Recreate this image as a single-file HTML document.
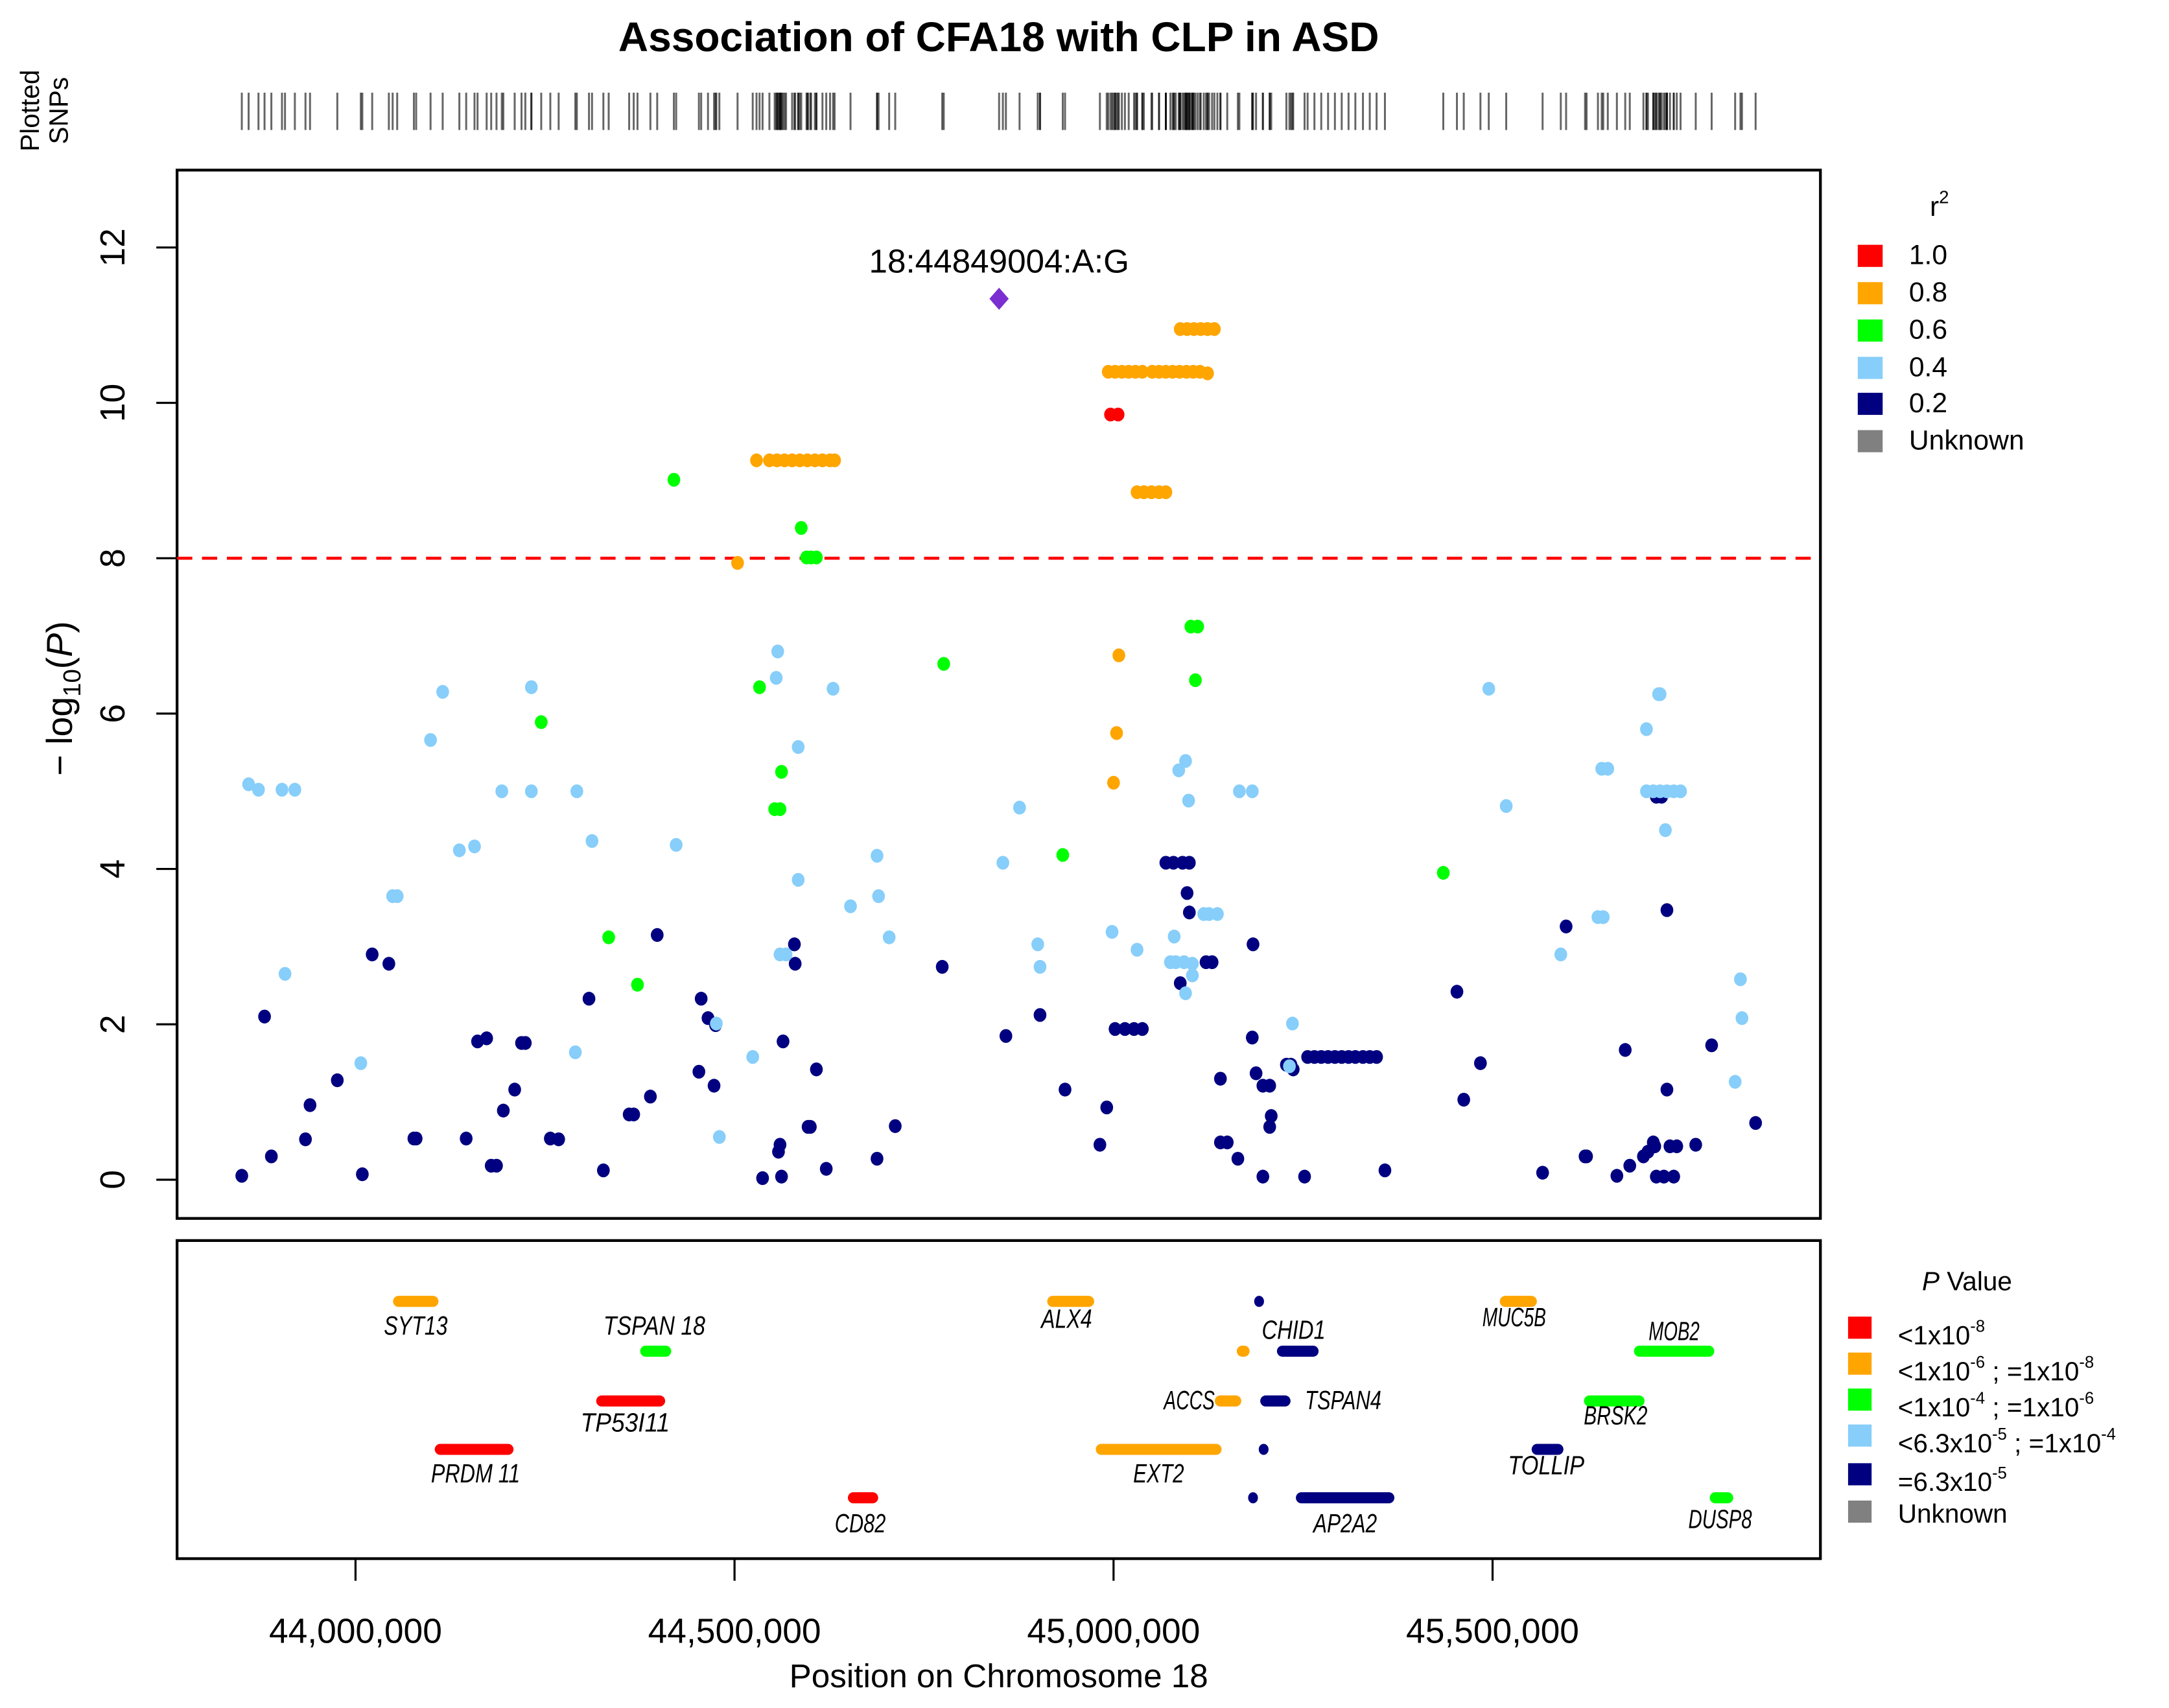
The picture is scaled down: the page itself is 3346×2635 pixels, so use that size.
<!DOCTYPE html>
<html><head><meta charset="utf-8"><style>
html,body{margin:0;padding:0;background:#fff}
svg{display:block}
text{font-family:"Liberation Sans",sans-serif}
</style></head><body>
<svg id="chart" xmlns="http://www.w3.org/2000/svg" width="3346" height="2635" viewBox="0 0 1568 1235" preserveAspectRatio="none">
<rect x="0" y="0" width="1568" height="1235" fill="#fff"/>
<text x="722" y="37" text-anchor="middle" font-size="30" font-weight="bold">Association of CFA18 with CLP in ASD</text>
<g font-size="19">
<text transform="translate(28,80) rotate(-90)" text-anchor="middle">Plotted</text>
<text transform="translate(49,80) rotate(-90)" text-anchor="middle">SNPs</text>
</g>
<g id="rug"></g>
<rect x="128" y="123" width="1188" height="758" fill="none" stroke="#000" stroke-width="2"/>
<rect x="128" y="897" width="1188" height="230" fill="none" stroke="#000" stroke-width="2"/>
<g id="yaxis"></g>
<text transform="translate(52,505) rotate(-90)" text-anchor="middle" font-size="26">− log<tspan font-size="18" dy="6">10</tspan><tspan dy="-6">(</tspan><tspan font-style="italic">P</tspan>)</text>
<g id="xaxis"></g>
<text x="722" y="1220" text-anchor="middle" font-size="24">Position on Chromosome 18</text>
<line id="thr" x1="128" x2="1316" stroke="#f00" stroke-width="2.2" stroke-dasharray="11,7"/>
<g id="points"></g>
<g id="genes"></g>
<g font-size="20">
<text x="1402" y="156" text-anchor="middle" font-size="20">r<tspan font-size="13" dy="-9">2</tspan></text>
<rect x="1343" y="177" width="18" height="16" fill="#f00"/><text x="1380" y="191">1.0</text>
<rect x="1343" y="204" width="18" height="16" fill="#ffa500"/><text x="1380" y="218">0.8</text>
<rect x="1343" y="231" width="18" height="16" fill="#0f0"/><text x="1380" y="245">0.6</text>
<rect x="1343" y="258" width="18" height="16" fill="#87cefa"/><text x="1380" y="272">0.4</text>
<rect x="1343" y="284" width="18" height="16" fill="#000080"/><text x="1380" y="298">0.2</text>
<rect x="1343" y="311" width="18" height="16" fill="#808080"/><text x="1380" y="325">Unknown</text>
</g>
<g font-size="19">
<text x="1422" y="933" text-anchor="middle"><tspan font-style="italic">P</tspan> Value</text>
<rect x="1336" y="952" width="17" height="16" fill="#f00"/><text x="1372" y="972">&lt;1x10<tspan font-size="12" dy="-9">-8</tspan></text>
<rect x="1336" y="978" width="17" height="16" fill="#ffa500"/><text x="1372" y="998">&lt;1x10<tspan font-size="12" dy="-9">-6</tspan><tspan dy="9"> ; =1x10</tspan><tspan font-size="12" dy="-9">-8</tspan></text>
<rect x="1336" y="1004" width="17" height="16" fill="#0f0"/><text x="1372" y="1024">&lt;1x10<tspan font-size="12" dy="-9">-4</tspan><tspan dy="9"> ; =1x10</tspan><tspan font-size="12" dy="-9">-6</tspan></text>
<rect x="1336" y="1030" width="17" height="16" fill="#87cefa"/><text x="1372" y="1050">&lt;6.3x10<tspan font-size="12" dy="-9">-5</tspan><tspan dy="9"> ; =1x10</tspan><tspan font-size="12" dy="-9">-4</tspan></text>
<rect x="1336" y="1058" width="17" height="16" fill="#000080"/><text x="1372" y="1078">=6.3x10<tspan font-size="12" dy="-9">-5</tspan></text>
<rect x="1336" y="1085" width="17" height="16" fill="#808080"/><text x="1372" y="1101">Unknown</text>
</g>
</svg>
<script>
// positions in kb, values -log10(P)
const navyPos=[43850,43889,43880,43934,43940,43976,44009,44022,44044,44077,44080,44146,44161,44173,44179,44186,44195,44210,44219,44224,44257,44268,44308,44327,44361,44367,44389,44398,44456,44453,44465,44473,44475,44537,44560,44558,44562,44564,44579,44580,44597,44600,44608,44621,44688,44712,44774,44858,44903,44936,44982,44991,45002,45015,45027,45038,45069,45079,45091,45100,45088,45097,45100,45122,45130,45141,45150,45141,45164,45183,45184,45188,45197,45206,45208,45206,45197,45228,45234,45237,45252,45256,45265,45274,45283,45292,45301,45310,45319,45329,45338,45347,45358,45453,45462,45484,45566,45597,45622,45624,45664,45675,45681,45699,45705,45712,45716,45726,45739,45716,45723,45730,45730,45734,45743,45714,45768,45789,45847];
const navyVal=[0.05,0.30,2.10,0.52,0.96,1.28,0.07,2.90,2.78,0.53,0.53,0.53,1.78,1.82,0.18,0.18,0.89,1.16,1.76,1.76,0.53,0.52,2.33,0.12,0.84,0.84,1.07,3.15,2.33,1.39,2.08,1.21,1.99,0.02,0.45,0.36,0.04,1.78,3.03,2.78,0.68,0.68,1.42,0.14,0.27,0.69,2.74,1.85,2.12,1.16,0.45,0.93,1.94,1.94,1.94,1.94,4.08,4.08,4.08,4.08,2.53,3.69,3.44,2.80,2.80,0.48,0.48,1.30,0.27,1.83,3.03,1.37,1.21,1.21,0.82,0.68,0.04,1.48,1.48,1.42,0.04,1.58,1.58,1.58,1.58,1.58,1.58,1.58,1.58,1.58,1.58,1.58,0.12,2.42,1.03,1.50,0.09,3.26,0.30,0.30,0.05,1.67,0.18,0.30,0.36,0.48,0.04,0.04,0.04,4.93,4.93,3.47,1.16,0.43,0.43,0.43,0.45,1.73,0.73];
const bluePos=[43859,43872,43903,43920,43907,44007,44049,44055,44099,44115,44137,44157,44193,44232,44232,44290,44292,44312,44423,44476,44480,44524,44557,44555,44560,44568,44584,44584,44630,44653,44688,44690,44704,44854,44876,44900,44903,44998,45031,45080,45086,45095,45099,45075,45082,45093,45095,45104,45104,45119,45126,45137,45166,45183,45232,45236,45495,45518,45590,45639,45646,45644,45652,45703,45719,45703,45712,45721,45730,45739,45748,45721,45728,45827,45829,45820];
const blueVal=[5.09,5.02,5.02,5.02,2.65,1.50,3.65,3.65,5.66,6.28,4.24,4.29,5.00,6.34,5.00,1.64,5.00,4.36,4.31,2.01,0.55,1.58,6.80,6.46,2.90,2.90,5.57,3.86,6.32,3.52,4.17,3.65,3.12,4.08,4.79,3.03,2.74,3.19,2.96,3.13,5.27,5.39,4.88,2.80,2.80,2.80,2.40,2.78,2.63,3.42,3.42,3.42,5.00,5.00,1.46,2.01,6.32,4.81,2.90,3.38,3.38,5.29,5.29,5.80,6.25,5.00,5.00,5.00,5.00,5.00,5.00,6.25,4.50,2.58,2.08,1.26];
const greenPos=[44420,44245,44334,44372,44533,44562,44553,44560,44588,44595,44601,44608,44776,44933,45102,45111,45108,45435];
const greenVal=[9.01,5.89,3.12,2.51,6.34,5.25,4.77,4.77,8.39,8.01,8.01,8.01,6.64,4.18,7.12,7.12,6.43,3.95];
const orangePos=[44529,44546,44556,44566,44576,44586,44596,44606,44616,44626,44632,44504,44993,45002,45011,45020,45029,45038,45051,45060,45069,45078,45087,45096,45105,45114,45124,45088,45097,45106,45115,45124,45133,45031,45040,45050,45060,45069,45007,45004,45000];
const orangeVal=[9.26,9.26,9.26,9.26,9.26,9.26,9.26,9.26,9.26,9.26,9.26,7.94,10.40,10.40,10.40,10.40,10.40,10.40,10.40,10.40,10.40,10.40,10.40,10.40,10.40,10.40,10.38,10.95,10.95,10.95,10.95,10.95,10.95,8.85,8.85,8.85,8.85,8.85,6.75,5.75,5.11];
const redPos=[44996,45006];
const redVal=[9.85,9.85];
const leadPos=[44849];
const leadVal=[11.34];
const leadLabel=["18:44849004:A:G"];
const yTicks=[0,2,4,6,8,10,12];
const xTicks=[44000000,44500000,45000000,45500000];
const xTickLabels=["44,000,000","44,500,000","45,000,000","45,500,000"];
const threshold=[8];
const geneNames=["SYT13","TSPAN 18","TP53I11","PRDM 11","CD82","ALX4","EXT2","ACCS","","CHID1","","TSPAN4","","","AP2A2","MUC5B","MOB2","BRSK2","TOLLIP","DUSP8"];
const geneStart=[44055,44381,44323,44110,44655,44918,44982,45139,45168,45221,45191,45199,45197,45183,45246,45515,45692,45626,45557,45792];
const geneEnd=[44104,44411,44403,44203,44684,44969,45137,45163,45174,45265,45193,45228,45199,45185,45365,45553,45787,45695,45588,45812];
const geneRow=[0,1,2,3,4,0,3,2,1,1,0,2,3,4,4,0,1,2,3,4];
const geneColor=["orange","green","red","red","red","orange","orange","orange","orange","navy","navy","navy","navy","navy","navy","orange","green","green","navy","green"];

const NS="http://www.w3.org/2000/svg";
const COL={red:"#f00",orange:"#ffa500",green:"#0f0",blue:"#87cefa",navy:"#000080"};
function xs(kb){return 257+(kb-44000)*274/500;}
function ys(v){return 853-v*56.17;}
function mk(tag,attrs,parent){const e=document.createElementNS(NS,tag);for(const k in attrs)e.setAttribute(k,attrs[k]);parent.appendChild(e);return e;}

const ya=document.getElementById('yaxis');
yTicks.forEach(t=>{
  const l=mk('line',{x1:113,x2:128,y1:ys(t),y2:ys(t),stroke:'#000','stroke-width':1.5},ya);
  
  
  const tx=mk('text',{transform:`translate(90,${ys(t)}) rotate(-90)`,'text-anchor':'middle','font-size':25},ya);
  
  
  tx.textContent=t;
});
const xa=document.getElementById('xaxis');
xTicks.forEach((t,i)=>{
  const x=xs(t/1000);
  const l=mk('line',{x1:x,x2:x,y1:1127,y2:1143,stroke:'#000','stroke-width':1.5},xa);
  
  
  const tx=mk('text',{x:x,y:1188,'text-anchor':'middle','font-size':25},xa);
  
  
  tx.textContent=xTickLabels[i];
});
const thr=document.getElementById('thr');
thr.setAttribute('y1',ys(threshold[0]));thr.setAttribute('y2',ys(threshold[0]));

const rug=document.getElementById('rug');
[].concat(navyPos,bluePos,greenPos,orangePos,redPos,leadPos).forEach(p=>{
  const l=mk('line',{x1:xs(p),x2:xs(p),y1:67,y2:94,stroke:'#000','stroke-opacity':0.6,'stroke-width':1.4},rug);
  
  
});

const pts=document.getElementById('points');
function series(pos,val,col,name){
  pos.forEach((p,i)=>{
    const e=mk('ellipse',{cx:xs(p),cy:ys(val[i]),rx:4.6,ry:5.0,fill:col},pts);
    
    
  });
}
series(navyPos,navyVal,COL.navy,'snp-point-r2-0.2');
series(bluePos,blueVal,COL.blue,'snp-point-r2-0.4');
series(greenPos,greenVal,COL.green,'snp-point-r2-0.6');
series(orangePos,orangeVal,COL.orange,'snp-point-r2-0.8');
series(redPos,redVal,COL.red,'snp-point-r2-1.0');
leadPos.forEach((p,i)=>{
  const x=xs(p),y=ys(leadVal[i]);
  const d=mk('polygon',{points:`${x},${y-8} ${x+7},${y} ${x},${y+8} ${x-7},${y}`,fill:'#7b2fd0'},pts);
  
  
  const t=mk('text',{x:x,y:y-19,'text-anchor':'middle','font-size':24},pts);
  
  
  t.textContent=leadLabel[i];
});

const rowY=[941,977,1013,1048,1083];
const labelPos={"SYT13":[0,24],"TSPAN 18":[-1,-12],"TP53I11":[-4,22],"PRDM 11":[1,24],"CD82":[-2,25],"ALX4":[-3,19],"EXT2":[0,24],"ACCS":[-28,6],"CHID1":[-3,-9],"TSPAN4":[49,6],"AP2A2":[0,25],"MUC5B":[-3,18],"MOB2":[0,-8],"BRSK2":[1,17],"TOLLIP":[-1,18],"DUSP8":[-1,22]};
const gg=document.getElementById('genes');
geneNames.forEach((n,i)=>{
  const x1=xs(geneStart[i]),x2=xs(geneEnd[i]),y=rowY[geneRow[i]];
  const w=Math.max(x2-x1,1);
  const r=mk('rect',{x:x1-3,y:y-4,width:w+6,height:8,rx:4,fill:COL[geneColor[i]]},gg);
  
  
  if(n){
    const o=labelPos[n]||[0,20];
    const t=mk('text',{x:(x1+x2)/2+o[0],y:y+o[1],'text-anchor':'middle','font-size':19,'font-style':'italic',textLength:n.length*9.2,lengthAdjust:'spacingAndGlyphs'},gg);
    
    
    t.textContent=n;
  }
});
</script>
</body></html>
